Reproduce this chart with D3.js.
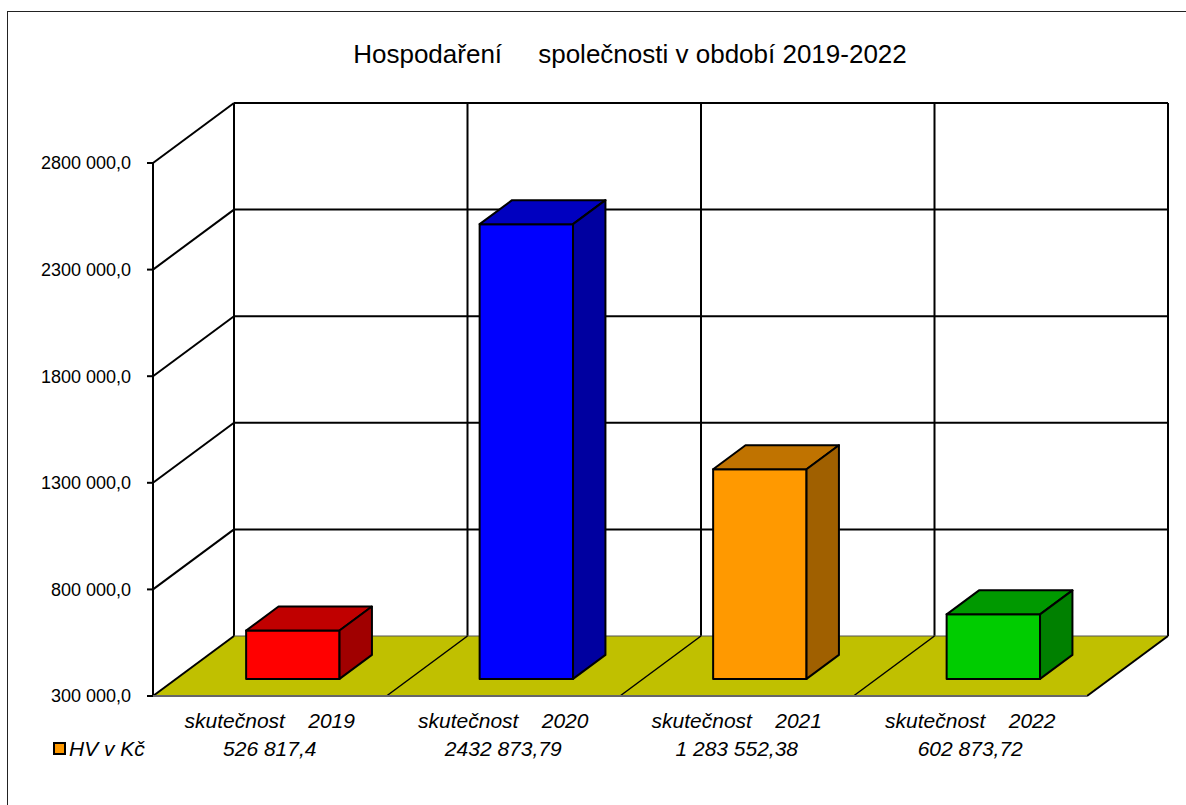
<!DOCTYPE html>
<html>
<head>
<meta charset="utf-8">
<script src="https://cdn.jsdelivr.net/npm/d3@7"></script>
<style>
  body { margin: 0; background: #fff; }
  text { font-family: Arial, "Liberation Sans", sans-serif; white-space: pre; }
</style>
</head>
<body>
<div id="chart"><svg width="1186" height="805"></svg></div>
<script>
// Data
let years = ["2019", "2020", "2021", "2022"];
let categoryLabels = ["skutečnost    2019", "skutečnost    2020", "skutečnost    2021", "skutečnost    2022"];
let values = [526817.4, 2432873.79, 1283552.38, 602873.72];
let valueLabels = ["526 817,4", "2432 873,79", "1 283 552,38", "602 873,72"];
let yTicks = [300000, 800000, 1300000, 1800000, 2300000, 2800000];
let yTickLabels = ["300 000,0", "800 000,0", "1300 000,0", "1800 000,0", "2300 000,0", "2800 000,0"];
let seriesName = "HV v Kč";
let titleText = "Hospodaření     společnosti v období 2019-2022";

// Colors
let colors = {
  bars: ["#FF0000", "#0000FF", "#FF9900", "#00CC00"],
  tops: ["#C00000", "#0000C0", "#C07300", "#009900"],
  sides: ["#A00000", "#0000A0", "#A06000", "#008000"],
  floor: "#C0C000",
  grid: "#000",
  legend: "#FF9900"
};

let svg = d3.select("div#chart svg");

// Front plane of the 3D box
let plot = { left: 153, right: 1087, top: 163, bottom: 696 };
// depth vector (front -> back wall)
let depth = { dx: 81, dy: -60 };
// bar depth fraction
let tFront = 0.285, tBack = 0.685;

let x = d3.scaleBand()
  .domain(years)
  .range([plot.left, plot.right])
  .paddingInner(0.6)
  .paddingOuter(0.3);

let y = d3.scaleLinear()
  .domain([300000, 2800000])
  .range([plot.bottom, plot.top]);

let step = x.step();
let slotEdges = d3.range(years.length + 1).map(i => plot.left + i * step);

// Outer border
svg.append("rect")
  .attr("x", 7.5)
  .attr("y", 11.5)
  .attr("width", 1300)
  .attr("height", 1000)
  .attr("fill", "none")
  .attr("stroke", "#222")
  .attr("stroke-width", 1);

// Title
svg.append("text")
  .attr("x", 630)
  .attr("y", 63)
  .attr("text-anchor", "middle")
  .style("font-size", "26px")
  .text(titleText);

let walls = svg.append("g").attr("class", "walls")
  .attr("stroke", colors.grid)
  .attr("stroke-width", 2)
  .attr("fill", "none");

// Back wall horizontal gridlines
yTicks.forEach(v => {
  if (v === y.domain()[0]) return;
  walls.append("line")
    .attr("x1", plot.left + depth.dx)
    .attr("x2", plot.right + depth.dx)
    .attr("y1", y(v) + depth.dy)
    .attr("y2", y(v) + depth.dy);
  // side wall diagonal
  walls.append("line")
    .attr("x1", plot.left)
    .attr("x2", plot.left + depth.dx)
    .attr("y1", y(v))
    .attr("y2", y(v) + depth.dy);
});

// Back wall verticals
slotEdges.forEach(e => {
  walls.append("line")
    .attr("x1", e + depth.dx)
    .attr("x2", e + depth.dx)
    .attr("y1", y(y.domain()[1]) + depth.dy)
    .attr("y2", y(y.domain()[0]) + depth.dy);
});

// Front axis line and ticks
walls.append("line")
  .attr("x1", plot.left).attr("x2", plot.left)
  .attr("y1", y(y.domain()[1])).attr("y2", y(y.domain()[0]));

yTicks.forEach((v, i) => {
  walls.append("line")
    .attr("x1", plot.left - 6).attr("x2", plot.left)
    .attr("y1", y(v)).attr("y2", y(v));
  svg.append("text")
    .attr("x", 131)
    .attr("y", y(v))
    .attr("dy", "0.36em")
    .attr("text-anchor", "end")
    .style("font-size", "18px")
    .text(yTickLabels[i]);
});

// Floor
let y0 = y(y.domain()[0]);
let floor = svg.append("g").attr("class", "floor");
floor.append("polygon")
  .attr("points", [
    [plot.left, y0],
    [plot.left + depth.dx, y0 + depth.dy],
    [plot.right + depth.dx, y0 + depth.dy],
    [plot.right, y0]
  ].map(p => p.join(",")).join(" "))
  .attr("fill", colors.floor)
  .attr("stroke", "none");

// Floor back edge and dividers
floor.append("line")
  .attr("x1", plot.left + depth.dx).attr("x2", plot.right + depth.dx)
  .attr("y1", y0 + depth.dy).attr("y2", y0 + depth.dy)
  .attr("stroke", "#555").attr("stroke-width", 1);

slotEdges.forEach((e, i) => {
  floor.append("line")
    .attr("x1", e).attr("x2", e + depth.dx)
    .attr("y1", y0).attr("y2", y0 + depth.dy)
    .attr("stroke", "#000")
    .attr("stroke-width", (i === 0 || i === years.length) ? 2 : 1.5);
});

// Floor front edge
floor.append("line")
  .attr("x1", plot.left).attr("x2", plot.right)
  .attr("y1", y0).attr("y2", y0)
  .attr("stroke", "#666").attr("stroke-width", 2);

// Bars
let fx = depth.dx * tFront, fy = depth.dy * tFront;
let bx = depth.dx * tBack, by = depth.dy * tBack;
let bars = svg.append("g").attr("class", "bars")
  .attr("stroke", "#000")
  .attr("stroke-width", 2)
  .attr("stroke-linejoin", "round");

years.forEach((yr, i) => {
  let xl = x(yr), xr = x(yr) + x.bandwidth();
  let yt = y(values[i]);
  let g = bars.append("g");
  let pts = a => a.map(p => p.join(",")).join(" ");

  // front face
  g.append("rect")
    .attr("x", xl + fx)
    .attr("y", yt + fy)
    .attr("width", x.bandwidth())
    .attr("height", y0 - yt)
    .attr("fill", colors.bars[i]);

  // top face
  g.append("polygon")
    .attr("points", pts([
      [xl + fx, yt + fy], [xr + fx, yt + fy],
      [xr + bx, yt + by], [xl + bx, yt + by]
    ]))
    .attr("fill", colors.tops[i]);

  // side face
  g.append("polygon")
    .attr("points", pts([
      [xr + fx, yt + fy], [xr + bx, yt + by],
      [xr + bx, y0 + by], [xr + fx, y0 + fy]
    ]))
    .attr("fill", colors.sides[i]);
});

// Category labels and values (data table)
years.forEach((yr, i) => {
  let cx = x(yr) + x.bandwidth() / 2;
  svg.append("text")
    .attr("x", cx)
    .attr("y", 728)
    .attr("text-anchor", "middle")
    .style("font-size", "21px")
    .style("font-style", "italic")
    .text(categoryLabels[i]);
  svg.append("text")
    .attr("x", cx)
    .attr("y", 756)
    .attr("text-anchor", "middle")
    .style("font-size", "21px")
    .style("font-style", "italic")
    .text(valueLabels[i]);
});

// Legend key
svg.append("rect")
  .attr("x", 54)
  .attr("y", 743)
  .attr("width", 11)
  .attr("height", 11)
  .attr("fill", colors.legend)
  .attr("stroke", "#000")
  .attr("stroke-width", 2);

svg.append("text")
  .attr("x", 69)
  .attr("y", 756)
  .style("font-size", "21px")
  .style("font-style", "italic")
  .text(seriesName);
</script>
</body>
</html>
